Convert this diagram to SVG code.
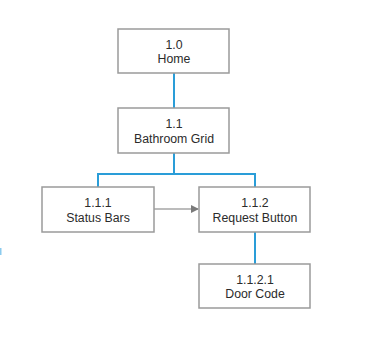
<svg xmlns="http://www.w3.org/2000/svg" width="376" height="340" viewBox="0 0 376 340">
<defs>
<style>
.box{fill:#fff;stroke:#9a9a9a;stroke-width:1.5}
.t{font-family:"Liberation Sans",Arial,sans-serif;font-size:12.3px;fill:#2b2b2b;text-anchor:middle}
.blue{stroke:#2a9dd8;stroke-width:2;fill:none}
.gray{stroke:#7a7a7a;stroke-width:1.2;fill:none}
</style>
<marker id="ah" markerWidth="8" markerHeight="8" refX="7" refY="4" orient="auto" markerUnits="userSpaceOnUse">
<path d="M0,0 L8,4 L0,8 Z" fill="#7a7a7a"/>
</marker>
</defs>
<rect width="376" height="340" fill="#fff"/>
<g id="connectors">
<path class="blue" d="M174,73 V108"/>
<path class="blue" d="M174,153 V174 M98,174 H255 M98,173 V187 M255,173 V187"/>
<path class="blue" d="M255,232 V264"/>
<path class="gray" d="M154,209 H198" marker-end="url(#ah)"/>
</g>
<g id="n1_0">
<rect class="box" x="118" y="29" width="111" height="44"/>
<text class="t" x="174" y="49">1.0</text>
<text class="t" x="174" y="63">Home</text>
</g>
<g id="n1_1">
<rect class="box" x="118" y="108" width="111" height="45"/>
<text class="t" x="174" y="128">1.1</text>
<text class="t" x="174" y="143">Bathroom Grid</text>
</g>
<g id="n1_1_1">
<rect class="box" x="42" y="187" width="112" height="45"/>
<text class="t" x="98" y="207">1.1.1</text>
<text class="t" x="98" y="222">Status Bars</text>
</g>
<g id="n1_1_2">
<rect class="box" x="199" y="187" width="111" height="45"/>
<text class="t" x="255" y="207">1.1.2</text>
<text class="t" x="255" y="222">Request Button</text>
</g>
<g id="n1_1_2_1">
<rect class="box" x="199" y="264" width="111" height="44"/>
<text class="t" x="255" y="284">1.1.2.1</text>
<text class="t" x="255" y="298">Door Code</text>
</g>
<rect x="0" y="248" width="1.5" height="7" fill="#8ccbee"/>
</svg>
